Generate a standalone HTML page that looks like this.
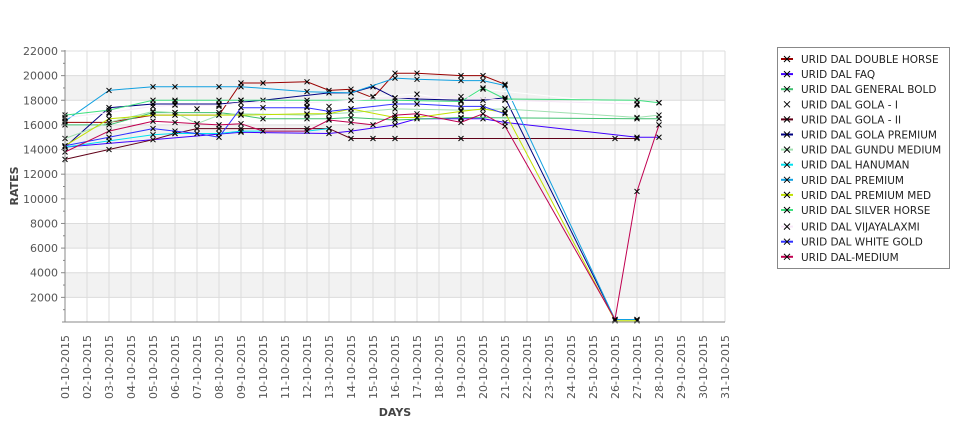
<!DOCTYPE html>
<html><head><meta charset="utf-8"><style>
body{margin:0;background:#fff;font-family:"Liberation Sans","DejaVu Sans",sans-serif}
svg text{font-family:"DejaVu Sans","Liberation Sans",sans-serif}
</style></head><body>
<svg id="chart" width="975" height="429" viewBox="0 0 975 429" xmlns="http://www.w3.org/2000/svg">
<g id="bands"></g><g id="grid"></g><g id="series"></g><g id="axes"></g><g id="legend"></g>
</svg>
<script>
const days=[];for(let d=1;d<=31;d++)days.push((d<10?'0':'')+d+'-10-2015');
const yTicks=[2000,4000,6000,8000,10000,12000,14000,16000,18000,20000,22000];
const seriesNames=["URID DAL DOUBLE HORSE","URID DAL FAQ","URID DAL GENERAL BOLD","URID DAL GOLA - I","URID DAL GOLA - II","URID DAL GOLA PREMIUM","URID DAL GUNDU MEDIUM","URID DAL HANUMAN","URID DAL PREMIUM","URID DAL PREMIUM MED","URID DAL SILVER HORSE","URID DAL VIJAYALAXMI","URID DAL WHITE GOLD","URID DAL-MEDIUM"];
const seriesColors=["#990000","#4000ff","#40c070","#ffffff","#600018","#000080","#a0e0b0","#00e0f0","#10a0e0","#c0e000","#40e080","#f8e8f8","#3030ff","#c00050"];
const sDoubleHorse=[[1,16200],[3,16200],[5,16800],[6,16800],[8,16800],[9,19400],[10,19400],[12,19500],[13,18800],[14,18900],[15,18200],[16,20200],[17,20200],[19,20000],[20,20000],[21,19300]];
const sFaq=[[1,14200],[9,15400],[13,15300],[14,15500],[16,16000],[17,16500],[19,16500],[20,16500],[21,16200],[27,15000],[28,15000]];
const sGeneralBold=[[1,16000],[3,16000],[5,17000],[6,17000],[8,17000],[9,16800],[10,16500],[12,16500],[13,16500],[14,16600],[16,16400],[19,16600],[27,16500],[28,16500]];
const sGola1=[[1,16500],[3,16900],[5,17500],[6,17900],[7,17300],[8,17500],[9,18000],[12,17500],[13,17500],[15,18300],[17,18500],[19,17900],[20,18900],[27,17600],[28,17800]];
const sGola2=[[1,13200],[3,14000],[5,14800],[6,15300],[7,15700],[8,15700],[9,15700],[12,15700],[13,15700],[14,14900],[15,14900],[16,14900],[19,14900],[26,14900],[27,14900]];
const sGolaPremium=[[1,14200],[3,17400],[5,17700],[6,17700],[8,17700],[10,18000],[13,18600],[14,18600],[15,19100],[16,18200],[17,18100],[19,18000],[20,18000],[21,18200],[26,200],[27,200]];
const sGunduMedium=[[1,14900],[3,16200],[5,17100],[6,17000],[7,16100],[8,16800],[9,16900],[12,16800],[14,17000],[16,17300],[19,17200],[21,17300],[27,16600],[28,16800]];
const sHanuman=[[1,14200],[3,14700],[5,15200],[6,15300],[8,15300],[9,15500],[12,15500],[13,15700]];
const sPremium=[[1,16300],[3,18800],[5,19100],[6,19100],[8,19100],[9,19100],[12,18700],[14,18600],[16,19800],[17,19700],[19,19600],[20,19600],[21,19200],[26,200],[27,200]];
const sPremiumMed=[[1,14300],[3,16500],[5,16800],[6,16800],[8,16800],[9,16800],[12,16900],[13,16900],[14,17300],[16,16600],[17,16600],[19,17100],[20,17300],[21,17000],[26,100],[27,100]];
const sSilverHorse=[[1,16800],[3,17200],[5,18000],[6,18000],[8,18000],[9,18000],[12,18000],[14,18000],[16,18000],[19,17900],[20,19000],[21,18100],[27,18000],[28,17800]];
const sVijayalaxmi=[[1,16600],[3,17000],[5,17500],[6,17600],[8,17600],[9,17800],[12,17800],[14,18000],[16,18200],[19,18300],[21,18000],[27,17700]];
const sWhiteGold=[[1,14300],[3,15000],[5,15700],[6,15500],[7,15300],[8,15000],[9,17400],[10,17400],[12,17400],[13,17100],[14,17300],[16,17700],[17,17700],[19,17500],[20,17500],[21,16900]];
const sDalMedium=[[1,13800],[3,15500],[5,16300],[6,16200],[7,16100],[8,16000],[9,16100],[10,15500],[12,15500],[13,16400],[14,16200],[15,16000],[16,16800],[17,16900],[19,16200],[20,16900],[21,15900],[26,200],[27,10600],[28,16000]];
const allSeries=[sDoubleHorse,sFaq,sGeneralBold,sGola1,sGola2,sGolaPremium,sGunduMedium,sHanuman,sPremium,sPremiumMed,sSilverHorse,sVijayalaxmi,sWhiteGold,sDalMedium];

const NS="http://www.w3.org/2000/svg";
const X0=65,X1=725,Y0=322,Y1=51,YMAX=22000;
const xScale=d=>X0+(d-1)*(X1-X0)/30;
const yScale=v=>Y0-v*(Y0-Y1)/YMAX;
function mk(tag,attrs,parent){const e=document.createElementNS(NS,tag);for(const k in attrs)e.setAttribute(k,attrs[k]);parent.appendChild(e);return e;}
const bands=document.getElementById('bands'),grid=document.getElementById('grid'),ser=document.getElementById('series'),axes=document.getElementById('axes'),leg=document.getElementById('legend');
for(let v=2000;v<YMAX;v+=4000){const r=mk('rect',{x:X0,y:yScale(v+2000),width:X1-X0,height:yScale(v)-yScale(v+2000),fill:'#f2f2f2'},bands);

}
for(let d=1;d<=31;d++){const l=mk('line',{x1:xScale(d),x2:xScale(d),y1:Y1,y2:Y0,stroke:'#dcdcdc','stroke-width':1},grid);

}
yTicks.forEach(v=>{const l=mk('line',{x1:X0,x2:X1,y1:yScale(v),y2:yScale(v),stroke:'#dcdcdc','stroke-width':1},grid);

});
allSeries.forEach((s,i)=>{
 const g=mk('g',{},ser);
 
 
 const pts=s.map(p=>xScale(p[0]).toFixed(1)+','+yScale(p[1]).toFixed(1)).join(' ');
 const pl=mk('polyline',{points:pts,fill:'none',stroke:seriesColors[i],'stroke-width':1},g);
 
 
 s.forEach(p=>{const cx=xScale(p[0]),cy=yScale(p[1]);
  const m=mk('path',{d:`M${cx-2.5},${cy-2.5}L${cx+2.5},${cy+2.5}M${cx+2.5},${cy-2.5}L${cx-2.5},${cy+2.5}`,stroke:'#000','stroke-width':1},g);
  
  });
});
const ax=mk('line',{x1:X0-3,x2:X1,y1:Y0,y2:Y0,stroke:'#888'},axes);


const ay=mk('line',{x1:X0,x2:X0,y1:Y1-1,y2:Y0,stroke:'#888'},axes);


for(let v=1000;v<=YMAX;v+=1000){mk('line',{x1:X0-(v%2000?2:4),x2:X0,y1:yScale(v),y2:yScale(v),stroke:'#888'},axes);}
yTicks.forEach(v=>{const t=mk('text',{x:X0-7,y:yScale(v)+4,'text-anchor':'end','font-size':11,fill:'#555'},axes);t.textContent=v;

});
days.forEach((lab,i)=>{const x=xScale(i+1)+4;const t=mk('text',{x:0,y:0,transform:`translate(${x},${335}) rotate(-90)`,'text-anchor':'end','font-size':11,fill:'#555'},axes);t.textContent=lab;

});
const yt=mk('text',{transform:'translate(18,186) rotate(-90)','text-anchor':'middle','font-size':11,'font-weight':'bold',fill:'#444'},axes);yt.textContent='RATES';


const xt=mk('text',{x:395,y:416,'text-anchor':'middle','font-size':11,'font-weight':'bold',fill:'#444'},axes);xt.textContent='DAYS';


const lb=mk('rect',{x:777.5,y:47.5,width:172,height:221,fill:'#fff',stroke:'#888'},leg);


seriesNames.forEach((n,i)=>{const y=59+i*15.1+(i>=11?1.5:0);
 const g=mk('g',{},leg);
 
 
 mk('line',{x1:781,x2:793,y1:y,y2:y,stroke:seriesColors[i],'stroke-width':2},g);
 mk('path',{d:`M${784},${y-3}L${790},${y+3}M${790},${y-3}L${784},${y+3}`,stroke:'#000','stroke-width':1},g);
 const t=mk('text',{x:801,y:y+4,'font-size':10.5,fill:'#222'},g);t.textContent=n;});
</script>
</body></html>
